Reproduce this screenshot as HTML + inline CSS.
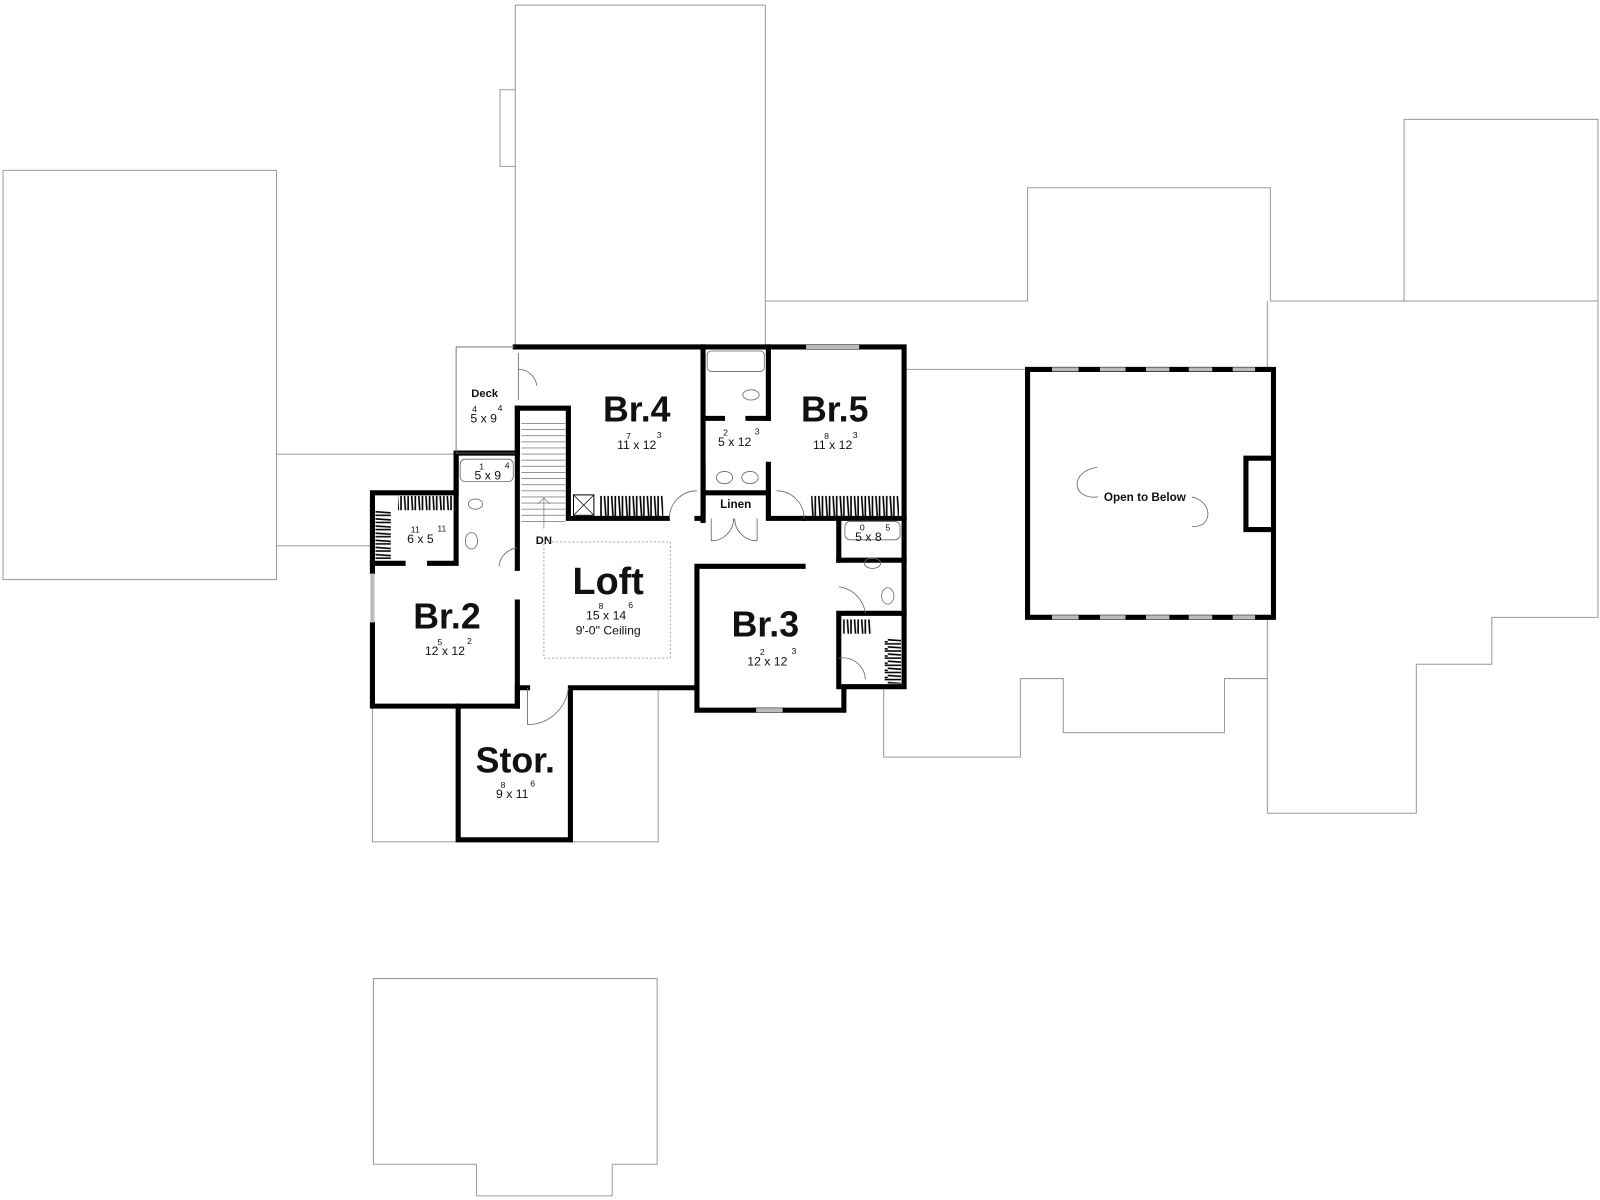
<!DOCTYPE html>
<html><head><meta charset="utf-8"><style>
html,body{margin:0;padding:0;background:#fff}
svg{display:block}
text{font-family:"Liberation Sans",Arial,sans-serif;fill:#111}
.o{fill:none;stroke:#9a9a9a;stroke-width:1}
.w{fill:none;stroke:#000;stroke-width:5;stroke-linecap:square}
.t{fill:none;stroke:#666;stroke-width:0.8}
.big{font-weight:bold;font-size:35px;text-anchor:middle}
.d{font-size:12px;text-anchor:middle}
.s{font-size:8.5px;text-anchor:middle}
.win{stroke:#bbb;stroke-width:4}
</style></head><body>
<svg width="1600" height="1200" viewBox="0 0 1568 1176" xmlns="http://www.w3.org/2000/svg">
<defs>
<pattern id="hv" width="7" height="30" patternUnits="userSpaceOnUse"><path d="M1 0V30M4 0L6 30" stroke="#000" stroke-width="1.6"/></pattern>
<pattern id="hh" width="30" height="7" patternUnits="userSpaceOnUse"><path d="M0 1H30M0 4L30 6" stroke="#000" stroke-width="1.6"/></pattern>
</defs>
<rect class="o" x="3" y="167" width="268" height="401"/>
<path class="o" d="M271 445H445M271 535H365"/>
<path class="o" d="M505 340V5H750V340M505 88H490V163H505"/>
<path class="o" d="M750 295H1007V184H1245V295H1566M1376 295V117H1566V605H1462V651H1388V797H1242V605M1242 295V362"/>
<path class="o" d="M888 362H1007"/>
<path class="o" d="M866 674V742H1000V665H1042V718H1200V665H1242"/>
<path class="o" d="M365 692V825H448M558 825H645V674"/>
<path class="o" d="M366 959H644V1141H600V1172H467V1141H366Z"/>
<path class="w" d="M1007 362H1248V605H1007Z"/>
<g class="win"><path d="M1031 362H1057M1078 362H1103M1123 362H1146M1165 362H1188M1208 362H1230M1031 605H1057M1078 605H1103M1123 605H1146M1165 605H1188M1208 605H1230"/></g>
<path class="w" d="M1246 449H1221V519H1246"/>
<text x="1122" y="491" style="font-size:11.5px;font-weight:bold;text-anchor:middle">Open to Below</text>
<path class="t" d="M1075 458C1048 462 1050 490 1076 487M1168 487C1190 492 1188 518 1168 516"/>
<g class="w">
<path d="M505 340H886V673H827V696H683V555H787"/>
<path d="M683 674H559V823H449V692"/>
<path d="M517 674H507V692H365V612M365 560V483H447V444H507V400H557V508H654"/>
<path d="M683 508H689V340M753 340V410M689 410V455M753 455V508H788M753 455V508"/>
<path d="M788 508H886"/>
<path d="M365 552H395M421 552H447V444"/>
<path d="M507 400V557M507 590V692"/>
<path d="M689 455V510M689 483H753"/>
<path d="M822 508V549M822 601V673M822 601H886M822 549V520"/>
<path d="M822 549H886"/>
<path d="M689 410H708M733 410H753"/>
</g>
<path class="win" d="M790 340H842M741 696H767M365 562V610"/>
<path class="t" d="M447 340V444H505M447 340H505"/>
<text x="475" y="389" style="font-size:11px;font-weight:bold;text-anchor:middle">Deck</text>
<g stroke="#888" stroke-width="0.8">
<path d="M511 415H554M511 421H554M511 427H554M511 433H554M511 439H554M511 445H554M511 451H554M511 457H554M511 463H554M511 469H554M511 475H554M511 481H554M511 487H554M511 493H554M511 499H554M511 505H554M511 511H554"/>
<path d="M533 518V488M527 494L533 488L539 494" fill="none"/>
</g>
<text x="533" y="533" style="font-size:11px;font-weight:bold;text-anchor:middle">DN</text>
<rect x="533" y="531" width="124" height="114" fill="none" stroke="#aaa" stroke-dasharray="2 2"/>
<rect x="588" y="486" width="62" height="20" fill="url(#hv)"/>
<rect x="795" y="486" width="86" height="20" fill="url(#hv)"/>
<rect x="390" y="486" width="54" height="14" fill="url(#hv)"/>
<rect x="368" y="500" width="15" height="50" fill="url(#hh)"/>
<rect x="826" y="607" width="28" height="14" fill="url(#hv)"/>
<rect x="867" y="625" width="16" height="45" fill="url(#hh)"/>
<rect x="562" y="485" width="20" height="20" fill="none" stroke="#000"/>
<path d="M562 485L582 505M582 485L562 505" stroke="#000" stroke-width="0.7"/>
<g class="t">
<rect x="451" y="450" width="52" height="22" rx="5"/>
<rect x="828" y="511" width="54" height="18" rx="5"/>
<rect x="693" y="344" width="56" height="20" rx="4"/>
<ellipse cx="466" cy="494" rx="7" ry="5"/><ellipse cx="462" cy="530" rx="6" ry="8"/>
<ellipse cx="736" cy="387" rx="8" ry="5"/><ellipse cx="710" cy="468" rx="8" ry="6"/><ellipse cx="735" cy="468" rx="8" ry="6"/>
<ellipse cx="855" cy="552" rx="8" ry="5"/><ellipse cx="870" cy="584" rx="6" ry="8"/>
<path d="M656 508A27 27 0 0 1 683 481M788 508A27 27 0 0 0 761 481M489 555A20 20 0 0 1 507 537M517 674V710A40 40 0 0 0 557 674M822 575A30 30 0 0 1 848 601M822 645A22 22 0 0 1 848 666M697 508V530M742 508V530M697 530A22 22 0 0 0 719 508M742 530A22 22 0 0 1 720 508M508 346V392M508 362A18 18 0 0 1 526 378"/>
</g>
<text class="big" x="624" y="413">Br.4</text>
<text class="d" x="624" y="440">11 x 12</text><text class="s" x="616" y="430">7</text><text class="s" x="646" y="429">3</text>
<text class="big" x="818" y="413">Br.5</text>
<text class="d" x="816" y="440">11 x 12</text><text class="s" x="810" y="430">8</text><text class="s" x="838" y="429">3</text>
<text class="d" x="720" y="437">5 x 12</text><text class="s" x="711" y="427">2</text><text class="s" x="742" y="426">3</text>
<text class="big" x="438" y="616">Br.2</text>
<text class="d" x="436" y="642">12 x 12</text><text class="s" x="431" y="632">5</text><text class="s" x="460" y="631">2</text>
<text class="big" x="596" y="582" style="font-size:37px">Loft</text>
<text class="d" x="594" y="607">15 x 14</text><text class="s" x="589" y="597">8</text><text class="s" x="618" y="596">6</text>
<text class="d" x="596" y="622">9'-0" Ceiling</text>
<text class="big" x="750" y="624">Br.3</text>
<text class="d" x="752" y="652">12 x 12</text><text class="s" x="747" y="642">2</text><text class="s" x="778" y="641">3</text>
<text class="big" x="505" y="757">Stor.</text>
<text class="d" x="502" y="782">9 x 11</text><text class="s" x="493" y="772">8</text><text class="s" x="522" y="771">6</text>
<text class="d" x="474" y="414">5 x 9</text><text class="s" x="465" y="404">4</text><text class="s" x="490" y="403">4</text>
<text class="d" x="478" y="470">5 x 9</text><text class="s" x="472" y="460">1</text><text class="s" x="497" y="459">4</text>
<text class="d" x="412" y="532">6 x 5</text><text class="s" x="407" y="522">11</text><text class="s" x="433" y="521">11</text>
<text class="d" x="851" y="530">5 x 8</text><text class="s" x="845" y="520">0</text><text class="s" x="870" y="520">5</text>
<text x="721" y="498" style="font-size:11.5px;font-weight:bold;text-anchor:middle">Linen</text>
</svg>
</body></html>
